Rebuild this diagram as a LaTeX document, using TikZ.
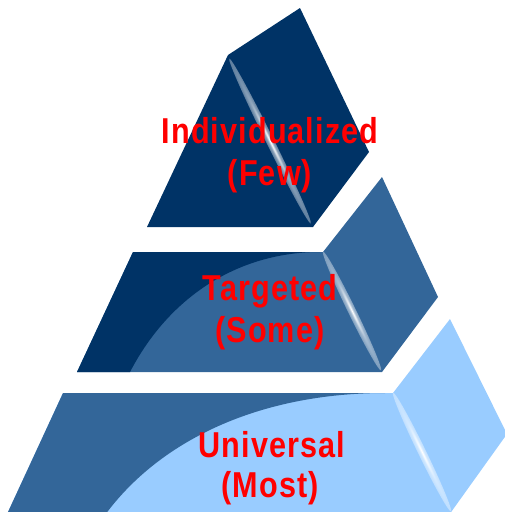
\documentclass[tikz,border=0pt]{standalone}
\usepackage{fontspec}
\newfontfamily\lblfont[FakeStretch=0.85,LetterSpace=3]{Liberation Sans}
\definecolor{navy}{RGB}{0,51,102}
\definecolor{midblue}{RGB}{51,102,153}
\definecolor{lightblue}{RGB}{153,204,255}
\definecolor{glarecol}{RGB}{0,51,102}
\definecolor{lblred}{RGB}{255,0,0}
\pgfdeclareradialshading[glarecol]{glare}{\pgfpoint{0bp}{0bp}}{color(0bp)=(white); color(12bp)=(white!55!glarecol); color(50bp)=(glarecol)}
\newcommand\glarestreak[5]{%
  \colorlet{glarecol}{#5}%
  \begin{scope}[transform canvas={shift={(#1,#2)},rotate=#3}]
    \shade[shading=glare] (0,0) ellipse [x radius=#4, y radius=4];
  \end{scope}}
\tikzset{
  lbl/.style={text=lblred, font=\lblfont\bfseries\fontsize{36}{42}\selectfont, anchor=base, inner sep=0pt},
}
\begin{document}
\begin{tikzpicture}[x=1pt,y=-1pt]
\useasboundingbox (0,0) rectangle (505,512);
\clip (0,0) rectangle (505,512);
% top tier
\fill[navy] (300,8) -- (369,152) -- (313,227) -- (147,227) -- (228,55) -- cycle;
\glarestreak{270}{141}{-63.7}{92}{navy}
% middle tier
\fill[midblue] (133,252) -- (323,252) -- (382,177) -- (438,297) -- (382,372) -- (77,372) -- cycle;
\fill[navy] (133,252) -- (320,252) .. controls (240,252) and (170,295) .. (130,372) -- (77,372) -- cycle;
\glarestreak{352}{311}{-64}{66}{midblue}
% bottom tier
\fill[lightblue] (63,393) -- (393,393) -- (450,319) -- (507,434) -- (449,515) -- (6.6,515) -- cycle;
\fill[midblue] (63,393) -- (385,393) .. controls (260,393) and (160,440) .. (105,515) -- (6.6,515) -- cycle;
\glarestreak{422}{452}{-64}{66}{lightblue}
% labels
\node[lbl] (t1) at (270,143) {Individualized};
\node[lbl] (t2) at (270,185) {(Few)};
\node[lbl] (m1) at (270,300) {Targeted};
\node[lbl] (m2) at (270,342) {(Some)};
\node[lbl] (b1) at (272,457) {Universal};
\node[lbl] (b2) at (270,497) {(Most)};
\end{tikzpicture}
\end{document}
